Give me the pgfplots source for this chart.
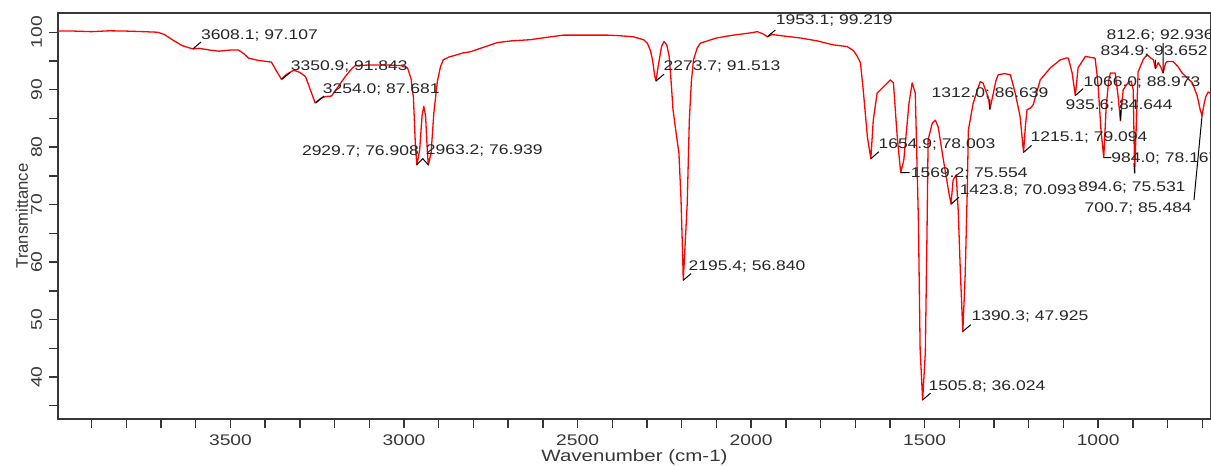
\documentclass[border=0pt]{standalone}
\usepackage{fontspec}
\setmainfont{Liberation Sans}[FakeStretch=1.25]
\newfontfamily\ylabfont{Liberation Sans}
\usepackage{pgfplots}
\pgfplotsset{compat=1.18}

\definecolor{framegray}{RGB}{55,55,55}

% IR spectrum, wavenumber vs transmittance
\pgfplotstableread{
wn T
3997 100.2
3950 100.2
3900 100.1
3850 100.25
3800 100.2
3750 100.1
3710 100.0
3690 99.6
3665 98.6
3640 97.7
3620 97.3
3608 97.1
3590 97.2
3560 96.9
3534 96.7
3500 96.9
3477 96.9
3460 96.2
3448 95.5
3420 95.1
3382 94.8
3370 93.5
3353 91.8
3340 92.6
3318 93.4
3300 93.0
3284 92.3
3270 90.0
3256 87.7
3240 88.5
3226 88.8
3209 88.9
3190 90.5
3169 92.3
3150 93.7
3140 94.2
3100 94.3
3050 94.3
3010 94.2
2990 93.8
2980 92.0
2973 88.7
2967 80.0
2963 76.9
2955 79.5
2948 85.5
2943 87.1
2938 85.5
2933 79.5
2930 76.9
2922 79.0
2914 86.0
2904 91.4
2895 94.0
2887 95.2
2870 95.7
2852 96.0
2830 96.4
2809 96.6
2770 97.4
2731 98.2
2690 98.5
2636 98.7
2590 99.1
2541 99.5
2480 99.5
2414 99.5
2380 99.4
2339 99.2
2310 98.7
2299 98.1
2290 96.8
2284 95.2
2278 92.5
2274 91.5
2268 94.0
2258 97.5
2251 98.4
2243 97.8
2236 95.8
2230 91.0
2225 86.5
2215 82.0
2208 79.0
2202 71.0
2198 62.7
2195.4 56.84
2191 62.0
2184 70.3
2178 84.7
2172 91.5
2166 95.2
2155 97.3
2146 98.1
2100 99.0
2051 99.5
2000 99.9
1982 100.1
1965 99.7
1953 99.2
1940 99.6
1900 99.3
1858 99.0
1810 98.5
1763 97.8
1723 97.5
1705 96.8
1694 95.8
1685 94.7
1677 90.0
1665 81.8
1655 78.0
1648 84.7
1637 89.4
1619 90.5
1599 91.7
1590 91.2
1579 81.8
1569 75.55
1560 77.8
1545 87.7
1536 91.2
1527 89.4
1518 67.3
1513 44.8
1505.8 36.0
1498 44.3
1493 66.1
1490 81.3
1478 84.2
1469 84.7
1461 83.5
1446 77.8
1430 72.0
1424 70.1
1418 74.3
1409 75.2
1403 68.6
1397 58.1
1390 47.9
1383 58.1
1377 73.1
1374 83.0
1360 87.7
1340 91.4
1332 91.2
1325 90.0
1316 88.5
1312 86.6
1306 88.3
1302 89.4
1295 91.5
1288 92.6
1270 92.8
1253 92.6
1239 89.4
1225 85.3
1215 79.1
1210 83.5
1205 86.5
1195 86.8
1187 87.4
1167 91.7
1138 93.8
1109 95.2
1092 95.5
1086 95.5
1075 92.9
1066 89.0
1060 92.5
1058 93.8
1037 95.8
1020 95.6
1009 95.5
1004 93.0
1000 90.5
992 83.0
984 78.2
977 87.0
970 91.5
965 92.9
951 92.9
942 88.5
936 84.6
928 90.0
914 91.2
905 91.5
899 90.0
895 75.5
888 87.7
885 93.1
870 95.3
859 96.1
848 95.5
841 95.2
835 93.7
827 94.7
820 94.0
813 92.9
806 94.6
801 94.9
784 94.9
770 94.0
758 92.9
729 91.2
715 89.0
706 86.5
700.7 85.5
695 87.5
690 88.8
683 89.6
677 89.4
675 89.2
}\spectrum

\begin{document}
\begin{tikzpicture}
\useasboundingbox (-29pt,-23.5pt) rectangle (576.5pt,209.5pt);
\begin{axis}[
  at={(0,0)}, anchor=south west, scale only axis,
  width=576.5pt, height=203pt,
  x dir=reverse,
  xmin=675, xmax=3997, ymin=32.7, ymax=103.35,
  xtick={1000,1500,...,3500}, minor xtick={700,800,...,3900},
  ytick={40,50,...,100}, minor ytick={35,45,...,95},
  xtick pos=left, ytick pos=left,
  tick align=outside,
  major tick length=4.5pt, minor tick length=4.5pt,
  every tick/.style={framegray, line width=0.7pt},
  axis line style={framegray, line width=0.8pt},
  /pgf/number format/1000 sep={},
  /pgf/number format/assume math mode=true,
  tick label style={font=\fontsize{7.7pt}{9pt}\selectfont, text=framegray},
  yticklabel style={rotate=90, anchor=south},
  xlabel={Wavenumber (cm-1)},
  ylabel={Transmittance},
  xlabel style={font=\fontsize{8.2pt}{9pt}\selectfont, text=framegray,
    at={(axis description cs:0.5,-0.094)}, anchor=center},
  ylabel style={font=\ylabfont\fontsize{8.35pt}{9pt}\selectfont, text=framegray,
    at={(axis description cs:-0.0312,0.5)}, anchor=center},
  unbounded coords=jump,
  clip=true,
]
\addplot[red, line width=0.65pt, line join=round] table[x=wn, y=T] {\spectrum};

% leader lines from the peaks to their labels
\addplot[black, line width=0.5pt] coordinates {
  (3608.1,97.107) (3585,98.3) (3585,nan)
  (3350.9,91.843) (3328,93.0) (3328,nan)
  (3254.0,87.681) (3231,88.9) (3231,nan)
  (2963.2,76.939) (2946,78.0) (2929.7,76.908) (2929.7,nan)
  (2273.7,91.513) (2251,92.7) (2251,nan)
  (1953.1,99.219) (1930,100.4) (1930,nan)
  (2195.4,56.840) (2173,58.0) (2173,nan)
  (1654.9,78.003) (1632,79.2) (1632,nan)
  (1569.2,75.554) (1543,75.554) (1543,nan)
  (1505.8,36.024) (1483,37.2) (1483,nan)
  (1423.8,70.093) (1401,71.3) (1401,nan)
  (1390.3,47.925) (1367,49.1) (1367,nan)
  (1312.0,86.639) (1312.0,88.3) (1312.0,nan)
  (1215.1,79.094) (1192,80.3) (1192,nan)
  (1066.0,88.973) (1043,90.2) (1043,nan)
  (935.6,84.644) (935.6,86.5) (935.6,nan)
  (984.0,78.167) (962,78.167) (962,nan)
  (894.6,75.531) (897,77.2) (897,nan)
  (700.7,85.484) (724,70.8) (724,nan)
  (834.9,93.652) (834.9,95.2) (834.9,nan)
  (812.6,92.936) (812.6,98.1)
};

\begin{scope}[every node/.style={anchor=west, inner sep=0pt,
    font=\fontsize{7pt}{8pt}\selectfont, text=black!85}]
\node at (axis cs:3586,99.5) {3608.1; 97.107};
\node at (axis cs:3327,94.1) {3350.9; 91.843};
\node at (axis cs:3235,90.1) {3254.0; 87.681};
\node at (axis cs:3295,79.2) {2929.7; 76.908};
\node at (axis cs:2938,79.4) {2963.2; 76.939};
\node at (axis cs:2253,94.0) {2273.7; 91.513};
\node at (axis cs:1930,102.0) {1953.1; 99.219};
\node at (axis cs:2181,59.2) {2195.4; 56.840};
\node at (axis cs:1634,80.4) {1654.9; 78.003};
\node at (axis cs:1541,75.5) {1569.2; 75.554};
\node at (axis cs:1490,38.4) {1505.8; 36.024};
\node at (axis cs:1400,72.4) {1423.8; 70.093};
\node at (axis cs:1366,50.5) {1390.3; 47.925};
\node at (axis cs:1481,89.4) {1312.0; 86.639};
\node at (axis cs:1196,81.6) {1215.1; 79.094};
\node at (axis cs:1043,91.2) {1066.0; 88.973};
\node at (axis cs:1095,87.2) {935.6; 84.644};
\node at (axis cs:963,78.1) {984.0; 78.167};
\node at (axis cs:1058,72.9) {894.6; 75.531};
\node at (axis cs:1040,69.3) {700.7; 85.484};
\node at (axis cs:994,96.6) {834.9; 93.652};
\node at (axis cs:977,99.5) {812.6; 92.936};
\end{scope}
\end{axis}
\end{tikzpicture}
\end{document}
